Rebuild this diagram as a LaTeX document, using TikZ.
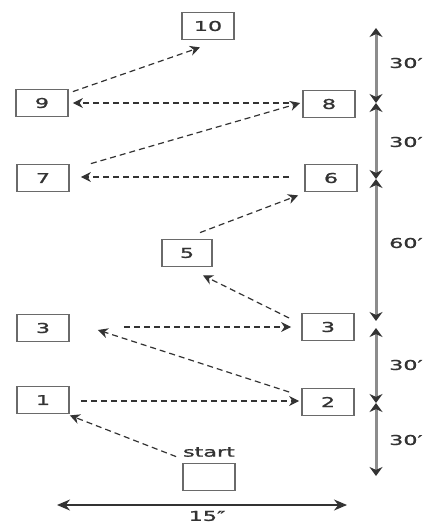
\documentclass[tikz,border=0pt]{standalone}
\usepackage{fontspec}
\newfontfamily\lbl[FakeStretch=1.65,FakeBold=1.2]{DejaVu Sans}
\usetikzlibrary{arrows.meta,calc}
\definecolor{ink}{HTML}{333333}
\definecolor{axisgray}{HTML}{8C8C8C}
\definecolor{boxgray}{HTML}{6A6A6A}
\tikzset{
  box/.style={draw=boxgray, line width=1.8pt, minimum width=52pt, minimum height=27pt, inner sep=0pt, fill=white, font=\lbl\fontsize{13.5}{14}\selectfont, text=ink},
  dlabel/.style={font=\lbl\fontsize{13.5}{14}\selectfont, text=ink, inner sep=0pt},
  darr/.style={draw=ink, line width=1.2pt, dash pattern=on 6pt off 4pt, -{Stealth[length=10pt,width=10pt]}},
  axisseg/.style={draw=axisgray, line width=3pt, {Stealth[length=9pt,width=13pt,color=ink]}-{Stealth[length=9pt,width=13pt,color=ink]}},
  dimarr/.style={draw=ink, line width=1.2pt, {Stealth[length=13pt,width=11pt]}-{Stealth[length=13pt,width=11pt]}}
}
\begin{document}
\begin{tikzpicture}[x=1pt,y=-1pt]
\useasboundingbox (0,0) rectangle (423,524);
% boxes
\node[box] (n10) at (208,26) {10};
\node[box] (n9) at (42,103) {9};
\node[box] (n8) at (329,104) {8};
\node[box] (n7) at (43,178) {7};
\node[box] (n6) at (331,178) {6};
\node[box, minimum width=50pt] (n5) at (187,253) {5};
\node[box] (n3l) at (43,328) {3};
\node[box] (n3r) at (328,327) {3};
\node[box] (n1) at (43,400) {1};
\node[box] (n2) at (328,402) {2};
\node[box] (start) at (209,477) {};
\node[dlabel] (startlbl) at (209,452) {start};
% dashed connectors
\draw[darr] ($(start.north west)+(-6,-6)$) -- ($(n1.south east)+(0,1)$);
\draw[darr] ($(n1.east)+(11,1)$) -- ($(n2.west)+(-2,-1)$);
\draw[darr] ($(n2.west)+(-12,-10)$) -- ($(n3l.east)+(28,2)$);
\draw[darr] ($(n3l.east)+(54,-1)$) -- ($(n3r.west)+(-10,0)$);
\draw[darr] ($(n3r.west)+(-12,-9)$) -- ($(n5.south)+(16,8)$);
\draw[darr] ($(n5.north)+(13,-6)$) -- ($(n6.south west)+(-6,3)$);
\draw[darr] ($(n6.west)+(-15,-1)$) -- ($(n7.east)+(11,-1)$);
\draw[darr] ($(n7.north east)+(21,0)$) -- ($(n8.west)+(-2,-1)$);
\draw[darr] ($(n8.west)+(-13,-1)$) -- ($(n9.east)+(4,0)$);
\draw[darr] ($(n9.north east)+(4,3)$) -- ($(n10.south)+(-8,7)$);
% vertical dimension axis
\coordinate (atop) at (376,28);
\coordinate (a8) at (376,103);
\coordinate (a6) at (376,179);
\coordinate (a3a) at (376,321);
\coordinate (a3b) at (376,328);
\coordinate (a2) at (376,403);
\coordinate (abot) at (376,476);
\draw[axisseg] (atop) -- (a8);
\draw[axisseg] (a8) -- (a6);
\draw[axisseg] (a6) -- (a3a);
\draw[axisseg] (a3b) -- (a2);
\draw[axisseg] (a2) -- (abot);
\node[dlabel, anchor=west] (l1) at (389,63) {30′};
\node[dlabel, anchor=west] (l2) at (389,142) {30′};
\node[dlabel, anchor=west] (l3) at (389,243) {60′};
\node[dlabel, anchor=west] (l4) at (389,365) {30′};
\node[dlabel, anchor=west] (l5) at (389,440) {30′};
% horizontal dimension
\coordinate (hl) at (57,505);
\coordinate (hr) at (347,505);
\draw[dimarr] (hl) -- (hr);
\node[dlabel] (wlbl) at (207,516) {15″};
\end{tikzpicture}
\end{document}
